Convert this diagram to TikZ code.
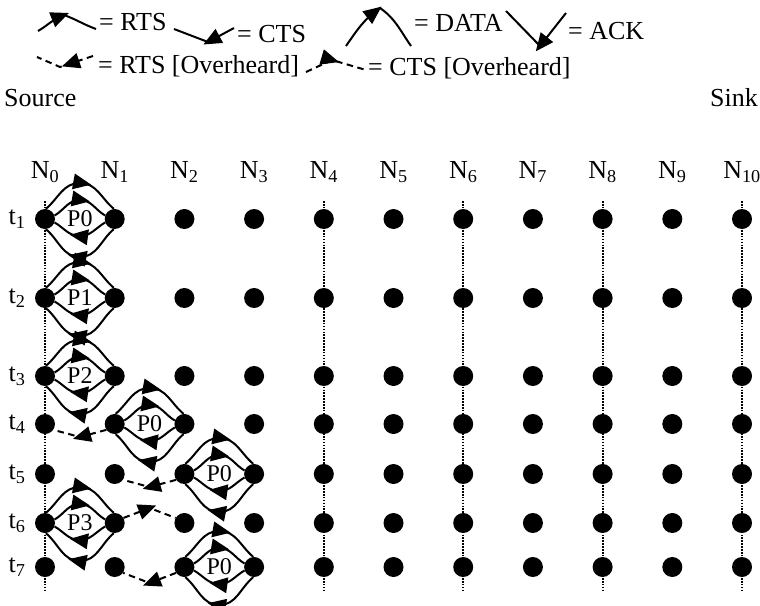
\documentclass[tikz,border=0pt]{standalone}
\usepackage{fontspec}
\setmainfont{Liberation Serif}
\usetikzlibrary{calc,decorations.markings}

\tikzset{
  lbl/.style={font=\fontsize{26}{30}\selectfont,inner sep=0pt},
  plbl/.style={font=\fontsize{24}{28}\selectfont,inner sep=0pt},
  dot/.style={circle,fill=black,inner sep=0pt,minimum size=20pt},
  timeline/.style={line width=2.2pt,dash pattern=on 1.6pt off 1.3pt},
  msg/.style={line width=2pt},
  % a solid filled triangle riding on the path, pointing along it
  tipat/.style={postaction={decorate},
    decoration={markings,mark=at position #1 with
      {\fill[solid] (7pt,0pt) -- (-11pt,8pt) -- (-11pt,-8pt) -- cycle;}}},
  sent/.style={msg,tipat=#1},
  sent/.default=0.55,
  heard/.style={line width=2pt,dash pattern=on 6.5pt off 4.5pt,tipat=#1},
  heard/.default=0.5,
}

% RTS/DATA go left to right above the pair, CTS/ACK come back below it
\newcommand\handshake[3]{%
  \coordinate (hm) at ($(#1)!0.5!(#2)$);
  \draw[sent] (#1.85) to[out=40,in=180] ($(hm)+(0,-36)$) to[out=0,in=140] (#2.95);
  \draw[sent] (#1.20) to[out=30,in=180] ($(hm)+(0,-19)$) to[out=0,in=150] (#2.160);
  \draw[sent] (#2.200) to[out=210,in=0] ($(hm)+(0,17)$) to[out=180,in=-30] (#1.340);
  \draw[sent] (#2.265) to[out=220,in=0] ($(hm)+(0,38)$) to[out=180,in=-40] (#1.275);
  \node[plbl] at (hm) {#3};
}
% overheard RTS: dashed, dipping, pointing back to the left
\newcommand\heardleft[3]{%
  \draw[heard] (#2.215) -- ($(#1)!0.5!(#2)+(0,#3)$) -- (#1.325);
}
% overheard CTS: dashed, raised, pointing to the right
\newcommand\heardright[3]{%
  \draw[heard] (#1.30) -- ($(#1)!0.5!(#2)+(0,#3)$) -- (#2.150);
}

\begin{document}
\begin{tikzpicture}[x=1pt,y=-1pt]
\useasboundingbox (0,0) rectangle (760,605);

% ---- legend ----
\draw[sent=0.44] (38,31) to[out=30,in=200] (64,15) to[out=-20,in=160] (96,29);
\node[lbl,anchor=base west] (kRTS) at (99,30) {= RTS};
\draw[sent=0.42] (234,28) -- (208,42) -- (174,29);
\node[lbl,anchor=base west] (kCTS) at (237,42) {= CTS};
\draw[sent=0.46] (346,46) to[out=55,in=215] (380,8) to[out=-35,in=125] (411,46);
\node[lbl,anchor=base west] (kDATA) at (414,31) {= DATA};
\draw[sent=0.46] (566,13) -- (540,46) -- (506,11);
\node[lbl,anchor=base west] (kACK) at (568,39) {= ACK};
\draw[heard=0.43] (93,56) -- (60,67) -- (37,57);
\node[lbl,anchor=base west] (kRTSo) at (98,73) {= RTS [Overheard]};
\draw[heard=0.45] (306,72) -- (332,60) -- (366,70);
\node[lbl,anchor=base west] (kCTSo) at (368,75) {= CTS [Overheard]};
\node[lbl,anchor=base west] (src) at (4,106) {Source};
\node[lbl,anchor=base east] (snk) at (758,106) {Sink};

% ---- node columns and time rows ----
\foreach \i in {0,...,10}
  \node[lbl] (N\i) at ({45+69.7*\i},172) {N\textsubscript{\i}};
\foreach \i in {0,4,6,8,10} {
  \coordinate (top\i) at ({45+69.7*\i},201);
  \coordinate (bot\i) at ({45+69.7*\i},592);
  \draw[timeline] (top\i) -- (bot\i);
}
\foreach \j/\y in {1/219,2/298,3/376,4/424,5/474,6/523,7/567} {
  \node[lbl] (t\j) at (17,\y) {t\textsubscript{\j}};
  \foreach \i in {0,...,10}
    \node[dot] (n\i-\j) at ({45+69.7*\i},\y) {};
}

% ---- packet exchanges ----
\handshake{n0-1}{n1-1}{P0}
\handshake{n0-2}{n1-2}{P1}
\handshake{n0-3}{n1-3}{P2}
\handshake{n1-4}{n2-4}{P0}
\handshake{n2-5}{n3-5}{P0}
\handshake{n0-6}{n1-6}{P3}
\handshake{n2-7}{n3-7}{P0}

% ---- overheard control frames ----
\heardleft{n0-4}{n1-4}{13}
\heardleft{n1-5}{n2-5}{13}
\heardright{n1-6}{n2-6}{-15}
\heardleft{n1-7}{n2-7}{16}
\end{tikzpicture}
\end{document}
